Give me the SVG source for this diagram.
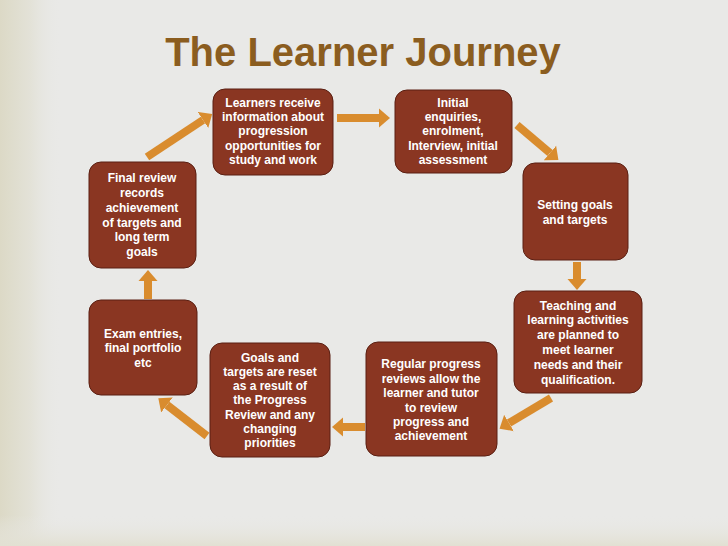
<svg xmlns="http://www.w3.org/2000/svg" width="728" height="546" viewBox="0 0 728 546">
<defs>
<linearGradient id="leftBar" x1="0" y1="0" x2="1" y2="0">
<stop offset="0" stop-color="#dcd9c6"/>
<stop offset="0.5" stop-color="#e3e2d8"/>
<stop offset="1" stop-color="#e9e9e7" stop-opacity="0"/>
</linearGradient>
<linearGradient id="bottomBar" x1="0" y1="0" x2="0" y2="1">
<stop offset="0" stop-color="#e9e9e7" stop-opacity="0"/>
<stop offset="1" stop-color="#e2e0d2"/>
</linearGradient>
<marker id="head" markerUnits="userSpaceOnUse" markerWidth="11" markerHeight="20" viewBox="0 -10 11 20" refX="0" refY="0" orient="auto">
<path d="M0,-9.5 L11,0 L0,9.5 Z" fill="#d98c2e"/>
</marker>
<style>
.box{fill:#8a3622;stroke:#5a1f12;stroke-width:1}
.lbl{font-family:"Liberation Sans",Arial,sans-serif;font-weight:bold;font-size:12px;fill:#ffffff;text-anchor:middle}
.arr{stroke:#d98c2e;stroke-width:8;fill:none;marker-end:url(#head)}
.title{font-family:"Liberation Sans",Arial,sans-serif;font-weight:bold;font-size:40px;fill:#8b5d1f;text-anchor:middle}
</style>
</defs>
<rect x="0" y="0" width="728" height="546" fill="#e9e9e7"/>
<rect x="0" y="0" width="62" height="546" fill="url(#leftBar)"/>
<rect x="0" y="515" width="728" height="31" fill="url(#bottomBar)"/>
<text class="title" x="363" y="66">The Learner Journey</text>

<g id="connectors">
<line class="arr" x1="147" y1="157" x2="203" y2="120"/>
<line class="arr" x1="337" y1="118" x2="379" y2="118"/>
<line class="arr" x1="517" y1="125" x2="550" y2="153"/>
<line class="arr" x1="577" y1="262" x2="577" y2="279"/>
<line class="arr" x1="551" y1="398" x2="509" y2="423"/>
<line class="arr" x1="365" y1="427" x2="343" y2="427"/>
<line class="arr" x1="207" y1="436" x2="167" y2="405"/>
<line class="arr" x1="148" y1="299" x2="148" y2="281"/>
</g>

<g id="n1">
<rect class="box" x="213" y="89" width="120" height="86" rx="12"/>
<text class="lbl" x="273" y="107">Learners receive</text>
<text class="lbl" x="273" y="121">information about</text>
<text class="lbl" x="273" y="135">progression</text>
<text class="lbl" x="273" y="149.5">opportunities for</text>
<text class="lbl" x="273" y="164">study and work</text>
</g>
<g id="n2">
<rect class="box" x="395" y="90" width="117" height="83" rx="12"/>
<text class="lbl" x="453" y="107">Initial</text>
<text class="lbl" x="453" y="121">enquiries,</text>
<text class="lbl" x="453" y="135">enrolment,</text>
<text class="lbl" x="453" y="150">Interview, initial</text>
<text class="lbl" x="453" y="164">assessment</text>
</g>
<g id="n3">
<rect class="box" x="523" y="163" width="105" height="97" rx="12"/>
<text class="lbl" x="575" y="209">Setting goals</text>
<text class="lbl" x="575" y="224">and targets</text>
</g>
<g id="n4">
<rect class="box" x="514" y="291" width="128" height="102" rx="12"/>
<text class="lbl" x="578" y="310">Teaching and</text>
<text class="lbl" x="578" y="324">learning activities</text>
<text class="lbl" x="578" y="339">are planned to</text>
<text class="lbl" x="578" y="354">meet learner</text>
<text class="lbl" x="578" y="369">needs and their</text>
<text class="lbl" x="578" y="384">qualification.</text>
</g>
<g id="n5">
<rect class="box" x="366" y="342" width="131" height="114" rx="12"/>
<text class="lbl" x="431" y="368">Regular progress</text>
<text class="lbl" x="431" y="383">reviews allow the</text>
<text class="lbl" x="431" y="397">learner and tutor</text>
<text class="lbl" x="431" y="412">to review</text>
<text class="lbl" x="431" y="426">progress and</text>
<text class="lbl" x="431" y="440">achievement</text>
</g>
<g id="n6">
<rect class="box" x="210" y="343" width="120" height="114" rx="12"/>
<text class="lbl" x="270" y="362">Goals and</text>
<text class="lbl" x="270" y="376">targets are reset</text>
<text class="lbl" x="270" y="390">as a result of</text>
<text class="lbl" x="270" y="404">the Progress</text>
<text class="lbl" x="270" y="419">Review and any</text>
<text class="lbl" x="270" y="433">changing</text>
<text class="lbl" x="270" y="447">priorities</text>
</g>
<g id="n7">
<rect class="box" x="89" y="300" width="108" height="95" rx="12"/>
<text class="lbl" x="143" y="338">Exam entries,</text>
<text class="lbl" x="143" y="352">final portfolio</text>
<text class="lbl" x="143" y="367">etc</text>
</g>
<g id="n8">
<rect class="box" x="89" y="162" width="107" height="106" rx="12"/>
<text class="lbl" x="142" y="182">Final review</text>
<text class="lbl" x="142" y="197">records</text>
<text class="lbl" x="142" y="212">achievement</text>
<text class="lbl" x="142" y="227">of targets and</text>
<text class="lbl" x="142" y="241">long term</text>
<text class="lbl" x="142" y="256">goals</text>
</g>
</svg>
